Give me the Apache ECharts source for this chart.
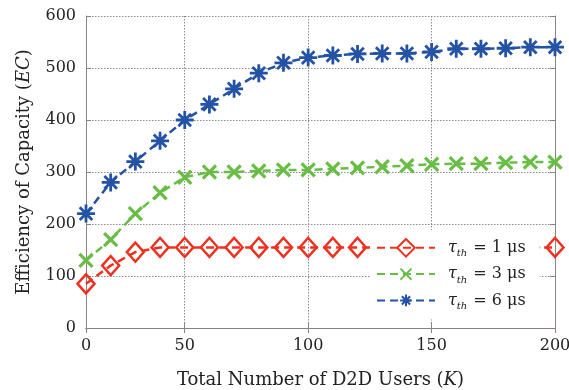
<!DOCTYPE html>
<html><head><meta charset="utf-8">
<script src="https://cdn.jsdelivr.net/npm/echarts@6/dist/echarts.min.js"></script>
<style>html,body{margin:0;padding:0;background:#fff}#c{width:569px;height:390px}</style>
</head><body><div id="c"></div>
<script>
const categories = ['0','12.5','25','37.5','50','60','70','80','90','100','110','120','130','140','150','160','170','180','190','200'];
const tickLabels = ['0','50','100','150','200'];
const tau1 = [85,120,146,155,155,155,155,155,155,155,155,155,155,155,155,155,155,155,155,155];
const tau3 = [130,170,220,260,290,300,300,302,304,304,306,308,310,312,315,316,316,318,319,319];
const tau6 = [220,280,320,360,400,430,460,490,510,520,524,527,528,528,531,537,537,538,540,540];
const seriesNames = ['t1','t3','t6'];

const FONT = 'DejaVu Serif';
const showTick = (i) => tickLabels.indexOf(categories[i]) >= 0;
const axisCol = '#8c827e';
const gridLine = {show:true, interval:(i)=>showTick(i), lineStyle:{color:'#8a8a8a', type:[1.5,1.5], width:1}};

const chart = echarts.init(document.getElementById('c'), null, {renderer:'canvas'});
const legendRich = {
  t:{fontFamily:FONT, fontStyle:'italic', fontSize:16, color:'#222', lineHeight:22},
  s:{fontFamily:FONT, fontStyle:'italic', fontSize:10, color:'#222', verticalAlign:'bottom', lineHeight:22, padding:[0,6,0,0]},
  n:{fontFamily:FONT, fontSize:16, color:'#222', lineHeight:22}
};
const legendText = {t1:'1', t3:'3', t6:'6'};
const titleRich = {a:{fontFamily:FONT,fontSize:18,color:'#222'},b:{fontFamily:FONT,fontSize:18,fontStyle:'italic',color:'#222'}};
chart.setOption({
  animation:false,
  backgroundColor:'#fff',
  grid:{left:86, right:14, top:16, bottom:62, show:false, containLabel:false, outerBoundsMode:'none'},
  xAxis:[{
    type:'category', data:categories, boundaryGap:false,
    axisLine:{lineStyle:{color:axisCol, width:1}},
    axisTick:{inside:true, interval:(i)=>showTick(i), length:5, lineStyle:{color:axisCol}},
    axisLabel:{interval:(i)=>showTick(i), fontFamily:FONT, fontSize:16, color:'#222', margin:10},
    splitLine:gridLine,
    name:'{a|Total Number of D2D Users (}{b|K}{a|)}', nameLocation:'middle', nameGap:43,
    nameTextStyle:{rich:titleRich}
  },{
    type:'category', data:categories, boundaryGap:false, position:'top',
    axisLine:{lineStyle:{color:axisCol, width:1}},
    axisTick:{inside:true, interval:(i)=>showTick(i), length:5, lineStyle:{color:axisCol}},
    axisLabel:{show:false}, splitLine:{show:false}
  }],
  yAxis:[{
    type:'value', min:0, max:600, interval:100,
    axisLine:{show:true, lineStyle:{color:axisCol, width:1}},
    axisTick:{show:true, inside:true, length:5, lineStyle:{color:axisCol}},
    axisLabel:{fontFamily:FONT, fontSize:16, color:'#222', margin:10},
    splitLine:{show:true, lineStyle:{color:'#8a8a8a', type:[1.5,1.5], width:1}},
    name:'{a|Efficiency of Capacity (}{b|EC}{a|)}', nameLocation:'middle', nameGap:53, nameRotate:90,
    nameTextStyle:{rich:titleRich}
  },{
    type:'value', min:0, max:600, interval:100, position:'right',
    axisLine:{show:true, lineStyle:{color:axisCol, width:1}},
    axisTick:{show:true, inside:true, length:5, lineStyle:{color:axisCol}},
    axisLabel:{show:false}, splitLine:{show:false}
  }],
  legend:{
    orient:'vertical', left:370, top:230, width:175,
    backgroundColor:'#fff', padding:[8,14,8,6],
    itemWidth:58, itemHeight:22, itemGap:5.5,
    data:seriesNames,
    formatter:(n)=>'{t|τ}{s|th}{n|= ' + legendText[n] + ' μs}',
    textStyle:{rich:legendRich, padding:[0,0,0,8]}
  },
  series:[{
    name:'t1', type:'line', data:tau1, showAllSymbol:true,
    symbol:'diamond', symbolSize:[17,19],
    lineStyle:{color:'#f0301f', width:2.5, type:[8,5]},
    itemStyle:{color:'rgba(255,255,255,0)', borderColor:'#f0301f', borderWidth:2.5},
    z:3
  },{
    name:'t3', type:'line', data:tau3, showAllSymbol:true,
    symbol:'path://M-3,-3M13,13M0,0L10,10M10,0L0,10', symbolSize:21,
    lineStyle:{color:'#68bd45', width:2.5, type:[8,5]},
    itemStyle:{color:'rgba(255,255,255,0)', borderColor:'#68bd45', borderWidth:3.2},
    z:3
  },{
    name:'t6', type:'line', data:tau6, showAllSymbol:true,
    symbol:'path://M-5,-5M25,25M0,10L20,10M10,0L10,20M3,3L17,17M3,17L17,3', symbolSize:27,
    lineStyle:{color:'#2453a6', width:2.5, type:[8,5]},
    itemStyle:{color:'rgba(255,255,255,0)', borderColor:'#2453a6', borderWidth:2.8},
    z:3
  }]
});
</script></body></html>
